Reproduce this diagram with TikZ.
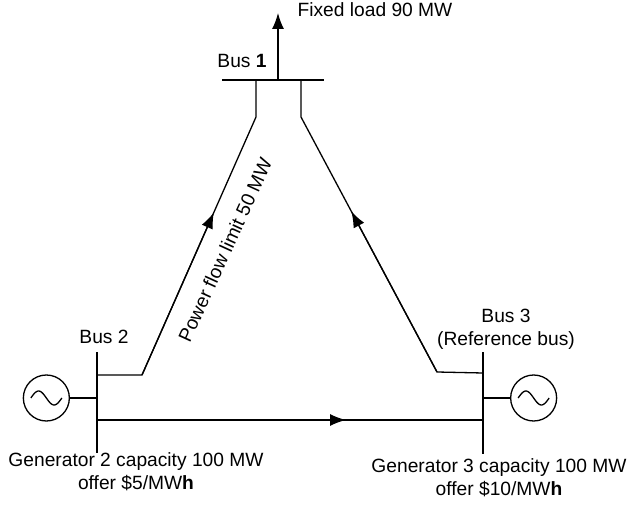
\documentclass[tikz,border=0pt]{standalone}
\usepackage{fontspec}
\setmainfont{Liberation Sans}
\usetikzlibrary{arrows.meta,positioning,calc}
\tikzset{
  bigtip/.style={-{Latex[length=16pt,width=12pt]}},
  line/.style={line width=1.3pt},
  gen/.style={circle,draw,line width=1.3pt,minimum size=46pt,inner sep=0pt},
  lab/.style={inner sep=0pt,align=center,font=\fontsize{19.2}{23}\selectfont},
}
\begin{document}
\begin{tikzpicture}[x=1pt,y=-1pt]
      \useasboundingbox (0,0) rectangle (627,505);
      % buses
      \coordinate (b1w) at (222,80);
      \coordinate (b1e) at (324,80);
      \coordinate (b1load) at (278,80);
      \coordinate (b1l) at (256,80);
      \coordinate (b1r) at (301,80);
      \coordinate (b2n) at (97,352);
      \coordinate (b2s) at (97,453);
      \coordinate (b3n) at (483,352);
      \coordinate (b3s) at (483,454);
      \coordinate (b2up) at (97,375);
      \coordinate (b2g) at (97,398);
      \coordinate (b2dn) at (97,420);
      \coordinate (b3up) at (483,373);
      \coordinate (b3g) at (483,398);
      \coordinate (b3dn) at (483,420);
      % bends of the lines
      \coordinate (l1) at (256,117);
      \coordinate (r1) at (301,117);
      \coordinate (l2) at (142,375);
      \coordinate (r2) at (437,372);
      \coordinate (loadtip) at (278,13);
      \coordinate (ltip) at ($(l2)!0.63!(l1)$);
      \coordinate (rtip) at ($(r2)!0.63!(r1)$);
      \coordinate (htip) at (346,420);
      \node[gen,left=27pt of b2g] (g2) {};
      \node[gen,right=27pt of b3g] (g3) {};
      \draw[line] (b1w) -- (b1e);
      \draw[line] (b2n) -- (b2s);
      \draw[line] (b3n) -- (b3s);
      \draw[line] (b1l) -- (l1) -- (l2) -- (b2up);
      \draw[line] (b1r) -- (r1) -- (r2) -- (b3up);
      \draw[line] (b2dn) -- (b3dn);
      \draw[line] (g2) -- (b2g);
      \draw[line] (g3) -- (b3g);
      \draw[line,bigtip] (b1load) -- (loadtip);
      \draw[line,bigtip] (l2) -- (ltip);
      \draw[line,bigtip] (r2) -- (rtip);
      \draw[line,bigtip] (b2dn) -- (htip);
      % sine waves
      \draw[line,shift={(g2.center)}] plot[domain=-15.5:15.5,samples=31,smooth] (\x,{7*sin(11.6*\x)});
      \draw[line,shift={(g3.center)}] plot[domain=-15.5:15.5,samples=31,smooth] (\x,{7*sin(11.6*\x)});
      % labels
      \node[lab] (load) at (375,10) {Fixed load 90 MW};
      \node[lab] (bus1) at (242,61) {Bus \textbf{1}};
      \node[lab] (bus2) at (104,337) {Bus 2};
      \node[lab] (bus3) at (506,329) {Bus 3\\(Reference bus)};
      \node[lab] (gen2) at (136,472) {Generator 2 capacity 100 MW\\offer \$5/MW\textbf{h}};
      \node[lab] (gen3) at (499,478) {Generator 3 capacity 100 MW\\offer \$10/MW\textbf{h}};
      \node[lab,rotate=65.5] (limit) at (225,250) {Power flow limit 50 MW};
\end{tikzpicture}
\end{document}
